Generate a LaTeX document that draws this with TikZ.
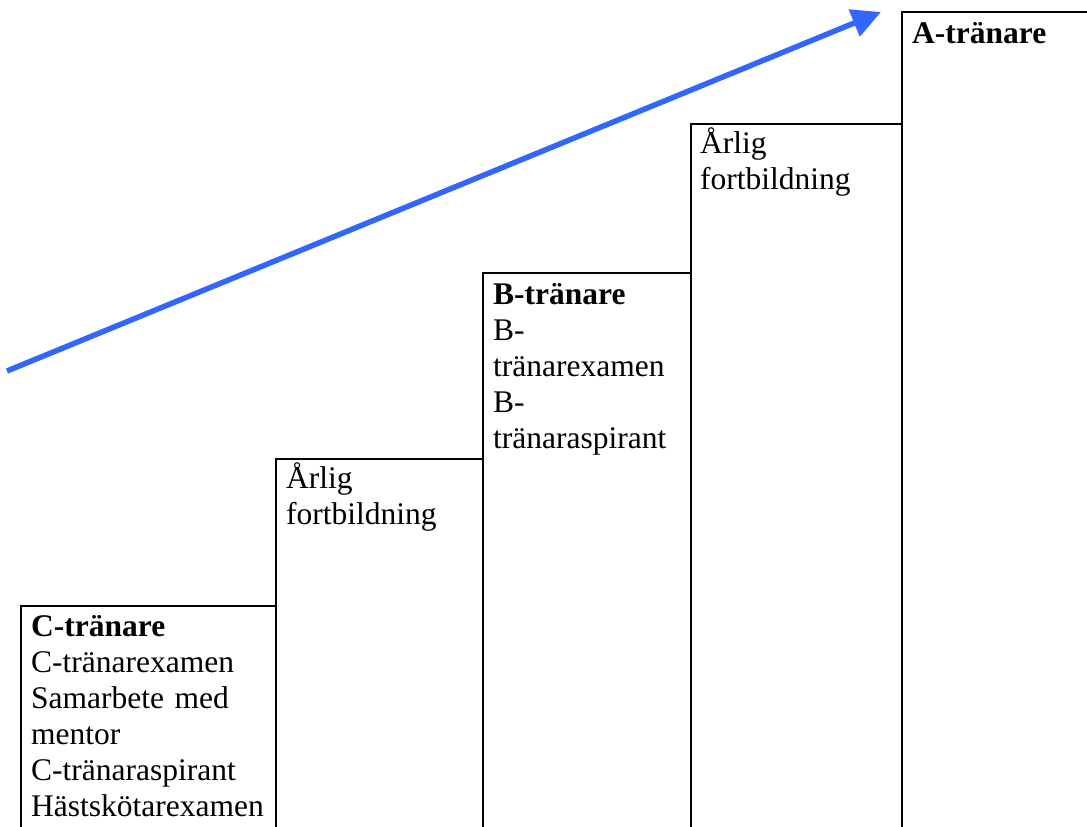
\documentclass[tikz,border=0pt]{standalone}
\usepackage{fontspec}
\setmainfont{Liberation Serif}
\definecolor{riseblue}{RGB}{51,102,255}
\usetikzlibrary{arrows.meta}
\begin{document}
\begin{tikzpicture}[x=1pt,y=-1pt,
    stepline/.style={line width=2pt,line cap=butt},
    steptext/.style={anchor=base west,inner sep=0pt,text width=250pt,align=left,
      font=\fontsize{31.5}{36}\selectfont},
    riseline/.style={riseblue,line width=5.5pt,-{Triangle[length=29pt,width=28pt]}}]
      \useasboundingbox (0,0) rectangle (1087,827);
      % steps
      \foreach \l/\r/\t in {20.5/276/605.5,276/483/458.5,483/691/273,691/902/124,902/1100/12.3}
        \draw[stepline] (\l,827) |- (\r,\t) -- (\r,827);
      \draw
        (31,636) node[steptext] (ctr){\textbf{C-tränare}\\C-tränarexamen\\Samarbete med\\mentor\\C-tränaraspirant\\Hästskötarexamen}
        (286,488.5) node[steptext] (arl1){Årlig\\fortbildning}
        (493,304.5) node[steptext] (btr){\textbf{B-tränare}\\B-\\tränarexamen\\B-\\tränaraspirant}
        (700,153.5) node[steptext] (arl2){Årlig\\fortbildning}
        (912,43) node[steptext] (atr){\textbf{A-tränare}};
      \coordinate (rise start) at (7,371);
      \coordinate (rise end) at (881,12);
      \draw[riseline] (rise start) -- (rise end);
    \end{tikzpicture}
\end{document}
